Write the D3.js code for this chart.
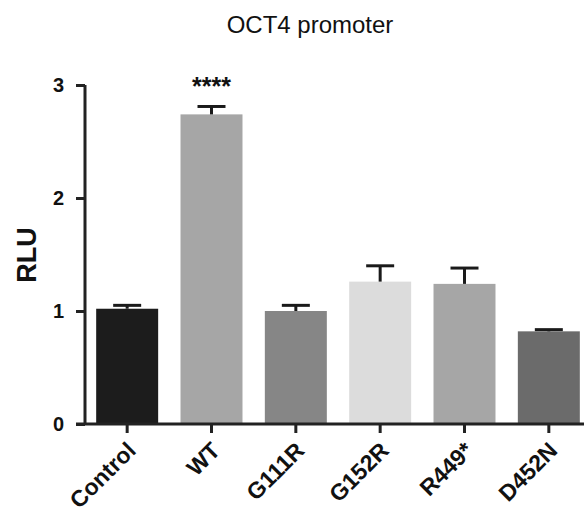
<!DOCTYPE html>
<html><head><meta charset="utf-8">
<script src="https://cdn.jsdelivr.net/npm/d3@7"></script>
<style>body{margin:0;background:#fff}svg{display:block}</style>
</head><body>
<script>
const categories = ["Control","WT","G111R","G152R","R449*","D452N"];
const values = [1.02, 2.74, 1.00, 1.26, 1.24, 0.82];
const errors = [0.03, 0.07, 0.05, 0.14, 0.14, 0.015];
const colors = ["#1c1c1c","#a6a6a6","#868686","#dcdcdc","#a6a6a6","#6b6b6b"];
const yTicks = [0,1,2,3];
const title = "OCT4 promoter";
const yLabel = "RLU";
const sigLabels = ["", "****", "", "", "", ""];

const W=584,H=512;
const svg=d3.select("body").append("svg").attr("width",W).attr("height",H);
const font="Liberation Sans, Arial, Helvetica, sans-serif";
const x=d3.scaleBand().domain(categories).range([85,591]).paddingInner(0.265).paddingOuter(0.1325);
const y=d3.scaleLinear().domain([0,3]).range([424,85]);

svg.selectAll("rect.bar").data(values).join("rect")
  .attr("x",(d,i)=>x(categories[i])).attr("width",x.bandwidth())
  .attr("y",d=>y(d)).attr("height",d=>y(0)-y(d))
  .attr("fill",(d,i)=>colors[i]);

const eg=svg.append("g").attr("stroke","#1a1a1a").attr("stroke-width",3);
values.forEach((v,i)=>{
  const cx=x(categories[i])+x.bandwidth()/2;
  eg.append("line").attr("x1",cx).attr("x2",cx).attr("y1",y(v)).attr("y2",y(v+errors[i]));
  eg.append("line").attr("x1",cx-14).attr("x2",cx+14).attr("y1",y(v+errors[i])).attr("y2",y(v+errors[i]));
});

// y axis
const ya=svg.append("g").attr("transform","translate(85,0)")
  .call(d3.axisLeft(y).tickValues(yTicks).tickSize(9).tickPadding(12).tickFormat(d3.format("d")));
ya.select(".domain").attr("stroke","#222").attr("stroke-width",3).attr("d","M0,424V85");
ya.selectAll(".tick line").attr("stroke","#222").attr("stroke-width",3);
ya.selectAll(".tick text").attr("font-family",font).attr("font-weight","bold").attr("font-size",20).attr("fill","#111");

// x axis
const xa=svg.append("g").attr("transform","translate(0,424)")
  .call(d3.axisBottom(x).tickSize(9).tickSizeOuter(0));
xa.select(".domain").attr("stroke","#222").attr("stroke-width",3).attr("d","M76,0H584");
xa.selectAll(".tick line").attr("stroke","#222").attr("stroke-width",3);
xa.selectAll(".tick text").attr("font-family",font).attr("font-weight","bold").attr("font-size",23).attr("fill","#111")
  .attr("text-anchor","end").attr("dy",null).attr("y",0)
  .attr("transform","translate(10,28) rotate(-45)");

// significance
svg.selectAll("text.sig").data(sigLabels).join("text")
  .attr("x",(d,i)=>x(categories[i])+x.bandwidth()/2)
  .attr("y",(d,i)=>y(values[i]+errors[i])-11)
  .attr("text-anchor","middle").attr("font-family",font).attr("font-weight","bold").attr("font-size",25).attr("fill","#111").text(d=>d);

svg.append("text").attr("x",310).attr("y",33).attr("text-anchor","middle")
  .attr("font-family",font).attr("font-size",24).attr("fill","#111").text(title);

svg.append("text").attr("transform","translate(36,255) rotate(-90)").attr("text-anchor","middle")
  .attr("font-family",font).attr("font-weight","bold").attr("font-size",27).attr("fill","#111").text(yLabel);
</script>
</body></html>
